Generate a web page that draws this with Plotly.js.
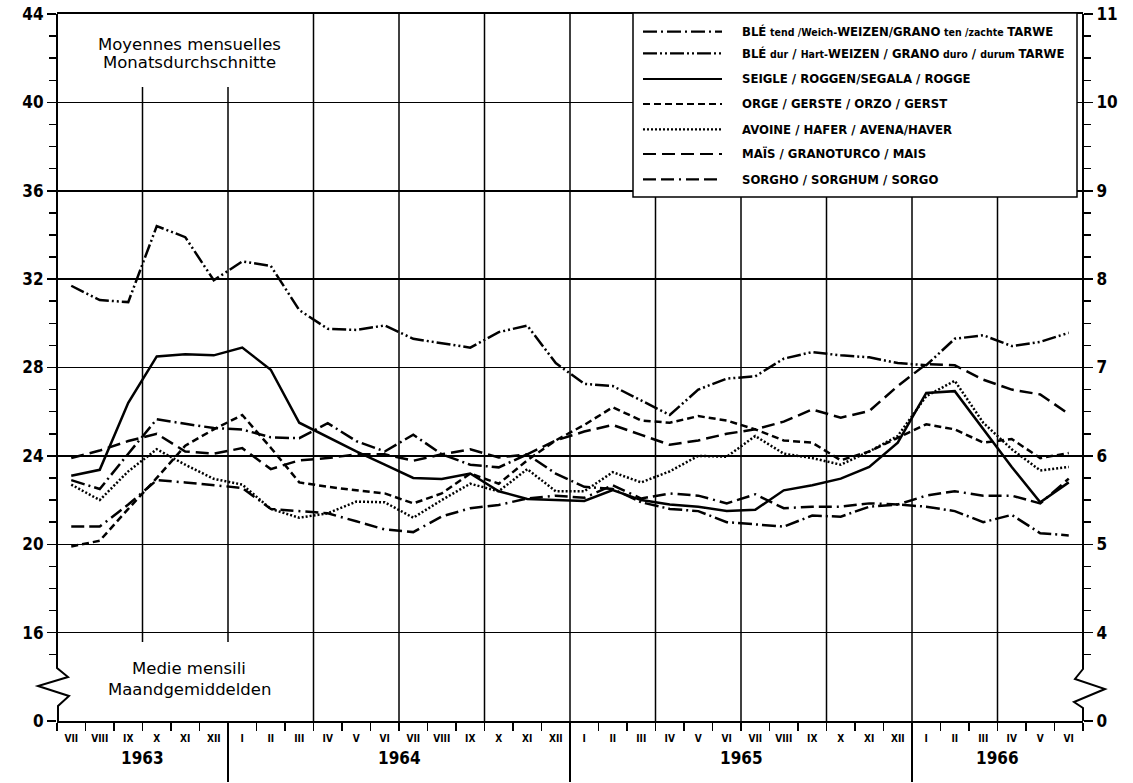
<!DOCTYPE html>
<html><head><meta charset="utf-8">
<script src="https://cdn.plot.ly/plotly-3.0.1.min.js"></script>
<style>html,body{margin:0;padding:0;background:#fff}#chart{width:1133px;height:783px}</style>
</head><body><div id="chart"></div>
<script>
// ---------- DATA ----------
const months = ["VII","VIII","IX","X","XI","XII",
  "I","II","III","IV","V","VI","VII","VIII","IX","X","XI","XII",
  "I","II","III","IV","V","VI","VII","VIII","IX","X","XI","XII",
  "I","II","III","IV","V","VI"];
const years = ["1963","1964","1965","1966"];
const monthsPerYear = [6,12,12,6];

const bleTendre = [22.9,22.5,24.1,25.66,25.45,25.26,25.19,24.84,24.8,25.48,24.67,24.2,24.96,24.07,23.6,23.48,24.07,23.2,22.6,22.5,21.9,21.6,21.5,21.0,20.9,20.8,21.3,21.25,21.7,21.8,21.7,21.5,21.0,21.33,20.5,20.4];
const bleDur    = [31.7,31.05,30.96,34.4,33.9,31.95,32.8,32.6,30.6,29.75,29.7,29.9,29.3,29.1,28.9,29.6,29.9,28.2,27.26,27.16,26.5,25.85,27.0,27.5,27.6,28.4,28.7,28.55,28.46,28.2,28.1,29.3,29.46,28.97,29.16,29.57];
const seigle    = [23.1,23.37,26.4,28.5,28.6,28.55,28.9,27.9,25.5,24.85,24.2,23.6,23.0,22.95,23.2,22.4,22.05,22.0,21.96,22.45,22.0,21.8,21.7,21.5,21.56,22.44,22.67,22.97,23.5,24.6,26.85,26.93,25.2,23.5,21.9,22.8];
const orge      = [19.9,20.16,21.6,23.0,24.46,25.2,25.85,24.37,22.8,22.6,22.44,22.3,21.85,22.3,23.2,22.74,23.8,24.7,25.4,26.2,25.6,25.5,25.8,25.6,25.2,24.7,24.6,23.8,24.2,24.8,25.43,25.2,24.6,24.76,23.9,24.13];
const mais      = [23.9,24.24,24.67,25.0,24.2,24.1,24.35,23.4,23.8,23.9,24.07,24.07,23.78,24.07,24.3,23.93,24.07,24.7,25.1,25.4,24.95,24.5,24.7,25.0,25.2,25.55,26.1,25.73,26.03,27.16,28.16,28.1,27.45,27.0,26.78,25.9];
const avoine    = [22.7,22.0,23.3,24.3,23.6,22.96,22.7,21.6,21.2,21.4,21.93,21.9,21.2,22.0,22.74,22.4,23.4,22.4,22.4,23.26,22.8,23.3,24.0,23.96,24.9,24.1,23.9,23.6,24.2,24.9,26.7,27.4,25.5,24.3,23.34,23.5];
const sorgho    = [20.8,20.8,21.8,22.9,22.8,22.67,22.55,21.6,21.5,21.4,21.04,20.67,20.55,21.26,21.63,21.78,22.07,22.2,22.1,22.67,22.07,22.3,22.2,21.85,22.26,21.63,21.7,21.7,21.85,21.8,22.2,22.4,22.2,22.2,21.85,22.97];

const leftTickVals  = [12,16,20,24,28,32,36,40,44];
const leftTickText  = ["0","16","20","24","28","32","36","40","44"];
const rightTickVals = [3,4,5,6,7,8,9,10,11];
const rightTickText = ["0","4","5","6","7","8","9","10","11"];

const SM = "<span style='font-size:10.5px'>";
const legendLabels = [
  "<b>BLÉ</b> "+SM+"<b>tend /Weich-</b></span><b>WEIZEN/GRANO</b> "+SM+"<b>ten /zachte</b></span> <b>TARWE</b>",
  "<b>BLÉ</b> "+SM+"<b>dur</b></span><b> / </b>"+SM+"<b>Hart-</b></span><b>WEIZEN / GRANO</b> "+SM+"<b>duro</b></span><b> / </b>"+SM+"<b>durum</b></span> <b>TARWE</b>",
  "<b>SEIGLE / ROGGEN/SEGALA / ROGGE</b>",
  "<b>ORGE / GERSTE / ORZO / GERST</b>",
  "<b>AVOINE / HAFER / AVENA/HAVER</b>",
  "<b>MAÏS / GRANOTURCO / MAIS</b>",
  "<b>SORGHO / SORGHUM / SORGO</b>"
];
const seriesData = [bleTendre, bleDur, seigle, orge, avoine, mais, sorgho];
const seriesDash = ["14px,4px,2px,4px","14px,3px,2px,3px,2px,3px","solid","7px,4px","2px,2px","13px,6px","13px,5px,13px,5px,2px,5px"];

// ---------- GEOMETRY (pixels of the 1133x783 page) ----------
const L=57, R=1083, T=14, B=721;
const PX = p => (p-L)/(R-L);
const PY = p => (B-p)/(B-T);
const FONT = "'DejaVu Sans Condensed','DejaVu Sans',sans-serif";

const xCenters = months.map((m,i)=>i+0.5);
const boundaries = months.map((m,i)=>i).concat([months.length]);

const traces = seriesData.map((d,i)=>({
  type:"scatter", mode:"lines", x:xCenters, y:d, name:legendLabels[i],
  line:{color:"#000", width:2.5, dash:seriesDash[i]}, showlegend:false, hoverinfo:"skip"
}));
traces.push({type:"scatter", mode:"lines", x:[], y:[], yaxis:"y2", showlegend:false, hoverinfo:"skip"});

const shapes = [];
function pathFrom(pts){return pts.map((p,i)=>(i?"L":"M")+PX(p[0]).toFixed(5)+","+PY(p[1]).toFixed(5)).join(" ");}
shapes.push({type:"path", xref:"paper", yref:"paper", path:pathFrom([[57,14],[57,668],[68,677],[38,686],[69,696],[58,706],[58,721]]), line:{color:"#000",width:2}});
shapes.push({type:"path", xref:"paper", yref:"paper", path:pathFrom([[1083,14],[1083,669],[1075,679],[1105,689],[1074,702],[1083,708],[1083,721]]), line:{color:"#000",width:2}});
boundaries.forEach(b=>{
  if(b===0||b===months.length||b%3!==0) return;
  const xp = L + (R-L)*b/months.length;
  let top=T, bot=B;
  if(xp<290){top=87; bot=642;}
  else if(xp>632){top=197;}
  shapes.push({type:"line", xref:"x", yref:"paper", x0:b, x1:b, y0:PY(bot), y1:PY(top), line:{color:"#000",width:1.5}, layer:"below"});
});
let acc=0;
const yearAnn=[];
monthsPerYear.forEach((n,i)=>{
  yearAnn.push({xref:"x", yref:"paper", x:acc+n/2, y:PY(770), text:"<b>"+years[i]+"</b>", showarrow:false, font:{family:FONT,size:17,color:"#000"}});
  if(i>0) shapes.push({type:"line", xref:"x", yref:"paper", x0:acc, x1:acc, y0:PY(729), y1:PY(782), line:{color:"#000",width:2}});
  acc+=n;
});
shapes.push({type:"rect", xref:"paper", yref:"paper", x0:PX(633), x1:PX(1077), y0:PY(197), y1:PY(13), fillcolor:"#fff", line:{color:"#000",width:1.5}, layer:"above"});
const legendRows=[31.7,53.3,79,104,129.3,154,179.3];
const annotations=[];
legendRows.forEach((ry,i)=>{
  shapes.push({type:"line", xref:"paper", yref:"paper", x0:PX(643), x1:PX(722), y0:PY(ry), y1:PY(ry), line:{color:"#000",width:2.2,dash:seriesDash[i]}, layer:"above"});
  annotations.push({xref:"paper", yref:"paper", x:PX(740), y:PY(ry), xanchor:"left", yanchor:"middle", text:legendLabels[i], showarrow:false, font:{family:FONT,size:13,color:"#000"}});
});
[["Moyennes mensuelles",45],["Monatsdurchschnitte",63],["Medie mensili",668],["Maandgemiddelden",689]].forEach(t=>{
  annotations.push({xref:"paper", yref:"paper", x:PX(189), y:PY(t[1]), xanchor:"center", yanchor:"middle", text:t[0], showarrow:false, font:{family:"'DejaVu Sans',sans-serif",size:16.5,color:"#000"}});
});
annotations.push(...yearAnn);

const minorLeft=[]; for(let v=15; v<44; v++){ if(v%4!==0) minorLeft.push(v); }
const minorRight=[]; for(let v=3.75; v<11; v+=0.25){ if(Math.abs(v-Math.round(v))>0.01) minorRight.push(v); }

const layout = {
  width:1133, height:783, margin:{l:L, r:1133-R, t:T, b:783-B},
  paper_bgcolor:"#fff", plot_bgcolor:"#fff", showlegend:false,
  xaxis:{range:[0,months.length], tickmode:"array", tickvals:xCenters, ticktext:months.map(m=>"<b>"+m+"</b>"),
    ticks:"outside", ticklen:7, tickcolor:"rgba(0,0,0,0)", tickfont:{family:FONT,size:10,color:"#000"},
    showgrid:false, zeroline:false, showline:true, linecolor:"#000", linewidth:2, mirror:true,
    minor:{tickmode:"array", tickvals:boundaries, ticks:"outside", ticklen:8, tickwidth:1.5, tickcolor:"#000", showgrid:false}},
  yaxis:{range:[12,44], tickmode:"array", tickvals:leftTickVals, ticktext:leftTickText.map(t=>"<b>"+t+"</b>"),
    ticks:"outside", ticklen:9, tickwidth:1.5, tickcolor:"#000", tickfont:{family:FONT,size:17,color:"#000"},
    showgrid:true, gridcolor:"#000", gridwidth:1.5, zeroline:false, showline:false,
    minor:{tickmode:"array", tickvals:minorLeft, ticks:"outside", ticklen:7, tickwidth:1.5, tickcolor:"#000", showgrid:false}},
  yaxis2:{range:[3,11], overlaying:"y", side:"right", tickmode:"array", tickvals:rightTickVals, ticktext:rightTickText.map(t=>"<b>"+t+"</b>"),
    ticks:"outside", ticklen:9, tickwidth:1.5, tickcolor:"#000", tickfont:{family:FONT,size:17,color:"#000"},
    showgrid:false, zeroline:false, showline:false,
    minor:{tickmode:"array", tickvals:minorRight, ticks:"outside", ticklen:7, tickwidth:1.5, tickcolor:"#000", showgrid:false}},
  shapes:shapes, annotations:annotations
};
Plotly.newPlot("chart", traces, layout, {displayModeBar:false, staticPlot:true});
</script></body></html>
